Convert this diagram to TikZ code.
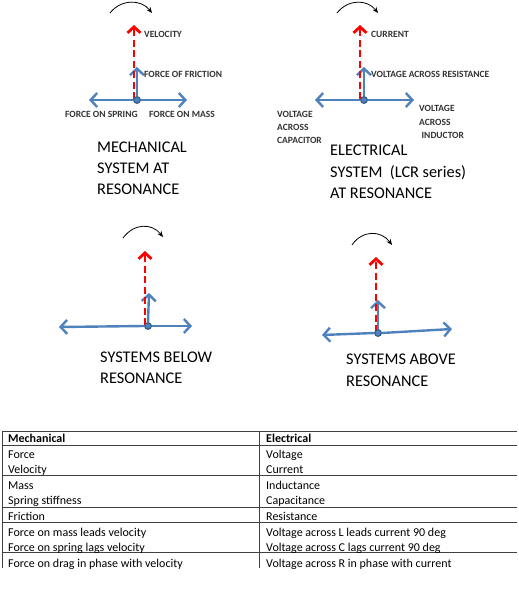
\documentclass[tikz,border=0pt]{standalone}
\usepackage{fontspec}
\setmainfont{Carlito}
\usetikzlibrary{arrows.meta}
\definecolor{vblue}{HTML}{4F81BD}
\definecolor{vbluedark}{HTML}{385D8A}
\definecolor{lblgray}{HTML}{333333}
\tikzset{
  bluevec/.style={draw=vblue, line width=2.4pt, -{Straight Barb[length=6.5pt,width=14pt,line width=2.4pt]}},
  redvec/.style={draw=red, line width=2.8pt, dash pattern=on 7pt off 3.5pt, -{Straight Barb[length=6pt,width=13pt,line width=2.8pt]}},
  origin/.style={circle, draw=vbluedark, fill=vblue, line width=1pt, minimum size=6.5pt, inner sep=0pt},
  rot/.style={draw=black, line width=0.8pt, -{Stealth[length=6pt,width=5pt]}},
  smalllbl/.style={anchor=west, inner sep=0pt, text=lblgray, font=\fontsize{9.5}{11}\selectfont\bfseries},
  title/.style={anchor=base west, inner sep=0pt, font=\fontsize{16.3}{20}\selectfont},
  tbl/.style={anchor=base west, inner sep=0pt, font=\fontsize{12}{14}\selectfont},
  tline/.style={draw=black!75, line width=0.9pt}
}
\begin{document}
\begin{tikzpicture}[x=1pt,y=-1pt]
\useasboundingbox (0,0) rectangle (519,600);

% ---------- Panel 1: mechanical at resonance ----------
\coordinate (m1l) at (89,100);
\coordinate (m1r) at (187,100);
\coordinate (m1u) at (137,67);
\coordinate (m1rs) at (134,99);
\coordinate (m1re) at (134,25);
\node[origin] (m1o) at (137,100) {};
\draw[bluevec] (m1o.west) -- (m1l);
\draw[bluevec] (m1o.east) -- (m1r);
\draw[bluevec] (m1o.north) -- (m1u);
\draw[redvec] (m1rs) -- (m1re);
\node[origin] at (m1o) {};
\coordinate (m1a) at (110,13);
\coordinate (m1b) at (152,13);
\draw[rot] (m1a) .. controls (121,-1) and (141,-1) .. (m1b);
\node[smalllbl] (m1vel) at (144,34) {VELOCITY};
\node[smalllbl] (m1fr) at (144,74) {FORCE OF FRICTION};
\node[smalllbl] (m1sp) at (65,114) {FORCE ON SPRING};
\node[smalllbl] (m1ms) at (149,114) {FORCE ON MASS};
\node[title] (m1t1) at (97,152) {MECHANICAL};
\node[title] (m1t2) at (97,173.5) {SYSTEM AT};
\node[title] (m1t3) at (97,194.5) {RESONANCE};

% ---------- Panel 2: electrical at resonance ----------
\coordinate (e1l) at (315,100);
\coordinate (e1r) at (414,100);
\coordinate (e1u) at (364,67);
\coordinate (e1rs) at (360,99);
\coordinate (e1re) at (360,25);
\node[origin] (e1o) at (364,100) {};
\draw[bluevec] (e1o.west) -- (e1l);
\draw[bluevec] (e1o.east) -- (e1r);
\draw[bluevec] (e1o.north) -- (e1u);
\draw[redvec] (e1rs) -- (e1re);
\node[origin] at (e1o) {};
\coordinate (e1a) at (337,13);
\coordinate (e1b) at (378,13);
\draw[rot] (e1a) .. controls (348,-1) and (367,-1) .. (e1b);
\node[smalllbl] (e1cur) at (371,34) {CURRENT};
\node[smalllbl] (e1res) at (371,74) {VOLTAGE ACROSS RESISTANCE};
\node[smalllbl] (e1c1) at (277,114) {VOLTAGE};
\node[smalllbl] (e1c2) at (277,127.5) {ACROSS};
\node[smalllbl] (e1c3) at (277,140) {CAPACITOR};
\node[smalllbl] (e1i1) at (419,108) {VOLTAGE};
\node[smalllbl] (e1i2) at (419,122) {ACROSS};
\node[smalllbl] (e1i3) at (421.5,135) {INDUCTOR};
\node[title] (e1t1) at (330,155.5) {ELECTRICAL};
\node[title] (e1t2) at (330,177) {SYSTEM\ \ (LCR series)};
\node[title] (e1t3) at (330,198) {AT RESONANCE};

% ---------- Panel 3: below resonance ----------
\coordinate (b1l) at (59,327);
\coordinate (b1r) at (192,326);
\coordinate (b1u) at (149,293);
\coordinate (b1rs) at (145,325);
\coordinate (b1re) at (145,251);
\node[origin] (b1o) at (148,326) {};
\draw[bluevec] (b1o.west) -- (b1l);
\draw[bluevec] (b1o.east) -- (b1r);
\draw[bluevec] (b1o.north) -- (b1u);
\draw[redvec] (b1rs) -- (b1re);
\node[origin] at (b1o) {};
\coordinate (b1a) at (123,238);
\coordinate (b1b) at (163,237);
\draw[rot] (b1a) .. controls (134,223) and (152,223) .. (b1b);
\node[title] (b1t1) at (100,362) {SYSTEMS BELOW};
\node[title] (b1t2) at (100,383.5) {RESONANCE};

% ---------- Panel 4: above resonance ----------
\coordinate (a1l) at (322,335);
\coordinate (a1r) at (452,329);
\coordinate (a1u) at (378,300);
\coordinate (a1rs) at (376,332);
\coordinate (a1re) at (376,257);
\node[origin] (a1o) at (378,333) {};
\draw[bluevec] (a1o.west) -- (a1l);
\draw[bluevec] (a1o.east) -- (a1r);
\draw[bluevec] (a1o.north) -- (a1u);
\draw[redvec] (a1rs) -- (a1re);
\node[origin] at (a1o) {};
\coordinate (a1a) at (352,245);
\coordinate (a1b) at (392,245);
\draw[rot] (a1a) .. controls (362,230) and (381,230) .. (a1b);
\node[title] (a1t1) at (346,364.5) {SYSTEMS ABOVE};
\node[title] (a1t2) at (346,386) {RESONANCE};

% ---------- Table ----------
\draw[tline] (2,431) -- (2,568);
\draw[tline] (259,431) -- (259,568);
\foreach \yy in {431,445,475,507,522,552} {
  \draw[tline] (2,\yy) -- (517,\yy);
}
\node[tbl, font=\fontsize{12}{14}\selectfont\bfseries] (h1) at (8,442) {Mechanical};
\node[tbl, font=\fontsize{12}{14}\selectfont\bfseries] (h2) at (266,442) {Electrical};
\node[tbl] (l1) at (8,458) {Force};
\node[tbl] (r1) at (266,458) {Voltage};
\node[tbl] (l2) at (8,473) {Velocity};
\node[tbl] (r2) at (266,473) {Current};
\node[tbl] (l3) at (8,489) {Mass};
\node[tbl] (r3) at (266,489) {Inductance};
\node[tbl] (l4) at (8,504) {Spring stiffness};
\node[tbl] (r4) at (266,504) {Capacitance};
\node[tbl] (l5) at (8,520) {Friction};
\node[tbl] (r5) at (266,520) {Resistance};
\node[tbl] (l6) at (8,536) {Force on mass leads velocity};
\node[tbl] (r6) at (266,536) {Voltage across L leads current 90 deg};
\node[tbl] (l7) at (8,551) {Force on spring lags velocity};
\node[tbl] (r7) at (266,551) {Voltage across C lags current 90 deg};
\node[tbl] (l8) at (8,567) {Force on drag in phase with velocity};
\node[tbl] (r8) at (266,567) {Voltage across R in phase with current};
\end{tikzpicture}
\end{document}
